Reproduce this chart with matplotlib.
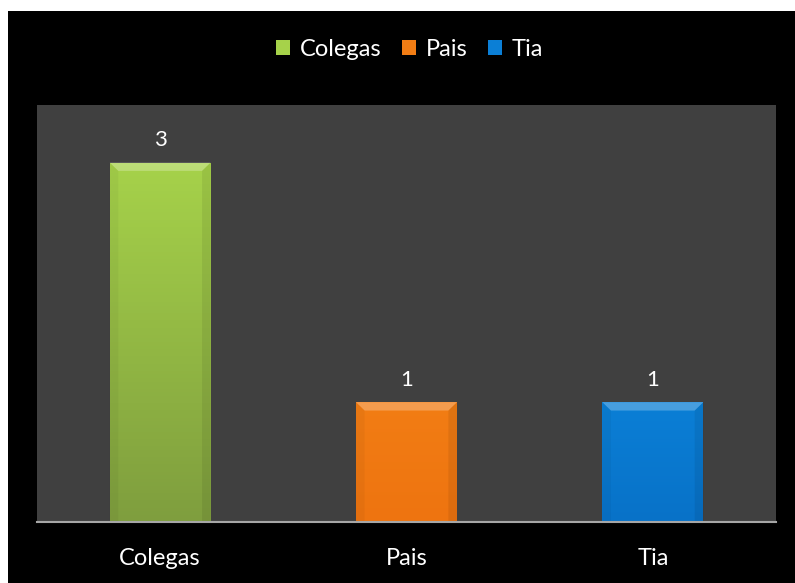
import numpy as np
import matplotlib
matplotlib.use("Agg")
import matplotlib.pyplot as plt
from matplotlib.patches import Rectangle, Polygon

categories = ["Colegas", "Pais", "Tia"]
values = [3, 1, 1]
colors_top = ["#a6d24a", "#f27d14", "#0b7fd6"]
colors_bottom = ["#7f9e3e", "#ee7410", "#0872c8"]

plt.rcParams["font.family"] = ["Lato", "DejaVu Sans"]

fig = plt.figure(figsize=(7.95, 5.83), dpi=100)
fig.patch.set_facecolor("white")
# black slide background with a thin white margin top/left
fig.patches.append(Rectangle((8 / 795, 0), 1, 1 - 11 / 583, transform=fig.transFigure,
                             facecolor="black", edgecolor="none", zorder=-10))

ax = fig.add_axes([37 / 795, 1 - 522 / 583, 739 / 795, 417 / 583])
ax.set_zorder(1)
ax.set_facecolor("#404040")

x = np.arange(len(categories))
width = 0.41
bars = ax.bar(x, values, width=width, color=colors_top, edgecolor="none", zorder=2)

ymax = 3.48

# vertical gradient + bevel on each bar
for b, ct, cb in zip(bars, colors_top, colors_bottom):
    x0, w, h = b.get_x(), b.get_width(), b.get_height()
    grad = np.linspace(0, 1, 100).reshape(-1, 1)
    c1 = np.array(matplotlib.colors.to_rgb(ct))
    c2 = np.array(matplotlib.colors.to_rgb(cb))
    img = (c2 + (c1 - c2) * grad).reshape(100, 1, 3)
    im = ax.imshow(img, extent=(x0, x0 + w, 0, h), origin="lower",
                   aspect="auto", zorder=3)
    im.set_clip_path(b)
    bh = 0.07
    bw = 0.035
    ax.add_patch(Polygon([(x0, h), (x0 + w, h), (x0 + w - bw, h - bh), (x0 + bw, h - bh)],
                         closed=True, facecolor="white", alpha=0.25,
                         edgecolor="none", zorder=4))
    ax.add_patch(Polygon([(x0, h), (x0 + bw, h - bh), (x0 + bw, 0), (x0, 0)],
                         closed=True, facecolor="black", alpha=0.04,
                         edgecolor="none", zorder=4))
    ax.add_patch(Polygon([(x0 + w, h), (x0 + w - bw, h - bh), (x0 + w - bw, 0), (x0 + w, 0)],
                         closed=True, facecolor="black", alpha=0.07,
                         edgecolor="none", zorder=4))

ax.set_xlim(-0.5, len(categories) - 0.5)
ax.set_ylim(0, ymax)

for b, v in zip(bars, values):
    ax.annotate(str(v), (b.get_x() + b.get_width() / 2, b.get_height()),
                xytext=(0, 9), textcoords="offset points",
                ha="center", va="bottom", color="white", fontsize=16)

ax.set_xticks(x)
ax.set_xticklabels(categories, color="white", fontsize=17)
ax.tick_params(axis="x", length=0, pad=19)
ax.set_yticks([])
for s in ["top", "left", "right"]:
    ax.spines[s].set_visible(False)
ax.spines["bottom"].set_color("#a6a6a6")
ax.spines["bottom"].set_linewidth(1.5)
ax.spines["bottom"].set_zorder(5)

handles = [Rectangle((0, 0), 1, 1, facecolor=c, edgecolor="none") for c in colors_top]
leg = fig.legend(handles, categories, loc="center", bbox_to_anchor=(0.515, 1 - 49 / 583),
                 ncol=3, frameon=False, fontsize=17, handlelength=0.62, handleheight=0.62,
                 handletextpad=0.4, columnspacing=0.85)
for t in leg.get_texts():
    t.set_color("white")

fig.savefig("out.png", dpi=100, facecolor=fig.get_facecolor())
